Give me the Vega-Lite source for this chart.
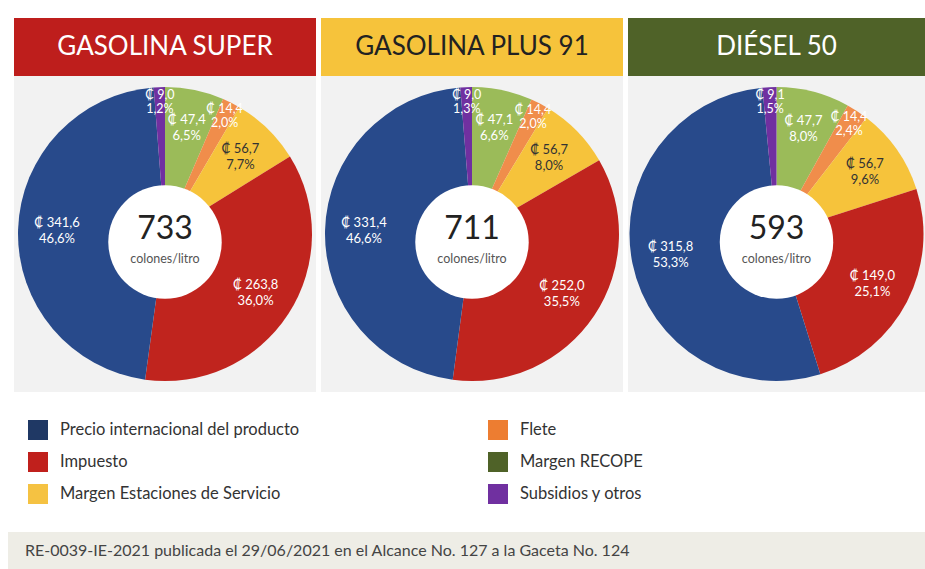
{
  "$schema": "https://vega.github.io/schema/vega-lite/v6.json",
  "padding": {"left": 8, "top": 18, "right": 0, "bottom": 0},
  "background": "white",
  "spacing": 0,
  "resolve": {"scale": {"color": "independent"}},
  "config": {
    "view": {"stroke": null},
    "locale": {"number": {"decimal": ",", "thousands": ".", "grouping": [3], "currency": ["₡ ", ""]}}
  },
  "datasets": {
    "fuels": [
      {"fuel": "GASOLINA SUPER", "total": 733},
      {"fuel": "GASOLINA PLUS 91", "total": 711},
      {"fuel": "DIÉSEL 50", "total": 593}
    ],
    "parts": [
      {"fuel": "GASOLINA SUPER", "component": "Margen RECOPE", "k": 1, "value": 47.4, "pct": 0.065},
      {"fuel": "GASOLINA SUPER", "component": "Flete", "k": 2, "value": 14.4, "pct": 0.020},
      {"fuel": "GASOLINA SUPER", "component": "Margen Estaciones de Servicio", "k": 3, "value": 56.7, "pct": 0.077},
      {"fuel": "GASOLINA SUPER", "component": "Impuesto", "k": 4, "value": 263.8, "pct": 0.360},
      {"fuel": "GASOLINA SUPER", "component": "Precio internacional del producto", "k": 5, "value": 341.6, "pct": 0.466},
      {"fuel": "GASOLINA SUPER", "component": "Subsidios y otros", "k": 6, "value": 9.0, "pct": 0.012},
      {"fuel": "GASOLINA PLUS 91", "component": "Margen RECOPE", "k": 1, "value": 47.1, "pct": 0.066},
      {"fuel": "GASOLINA PLUS 91", "component": "Flete", "k": 2, "value": 14.4, "pct": 0.020},
      {"fuel": "GASOLINA PLUS 91", "component": "Margen Estaciones de Servicio", "k": 3, "value": 56.7, "pct": 0.080},
      {"fuel": "GASOLINA PLUS 91", "component": "Impuesto", "k": 4, "value": 252.0, "pct": 0.355},
      {"fuel": "GASOLINA PLUS 91", "component": "Precio internacional del producto", "k": 5, "value": 331.4, "pct": 0.466},
      {"fuel": "GASOLINA PLUS 91", "component": "Subsidios y otros", "k": 6, "value": 9.0, "pct": 0.013},
      {"fuel": "DIÉSEL 50", "component": "Margen RECOPE", "k": 1, "value": 47.7, "pct": 0.080},
      {"fuel": "DIÉSEL 50", "component": "Flete", "k": 2, "value": 14.4, "pct": 0.024},
      {"fuel": "DIÉSEL 50", "component": "Margen Estaciones de Servicio", "k": 3, "value": 56.7, "pct": 0.096},
      {"fuel": "DIÉSEL 50", "component": "Impuesto", "k": 4, "value": 149.0, "pct": 0.251},
      {"fuel": "DIÉSEL 50", "component": "Precio internacional del producto", "k": 5, "value": 315.8, "pct": 0.533},
      {"fuel": "DIÉSEL 50", "component": "Subsidios y otros", "k": 6, "value": 9.1, "pct": 0.015}
    ]
  },
  "vconcat": [
    {
      "spacing": 5,
      "hconcat": [
        {"width": 1, "height": 374, "data": {"values": []}, "mark": "point", "encoding": {}},
        {
          "spacing": 0,
          "vconcat": [
            {
              "width": 302, "height": 58,
              "view": {"fill": "#be1e1c", "stroke": null},
              "data": {"name": "fuels"},
              "transform": [{"filter": "datum.fuel === 'GASOLINA SUPER'"}],
              "mark": {"type": "text", "font": "Lato", "fontSize": 26, "color": "#ffffff", "baseline": "middle", "align": "center"},
              "encoding": {"text": {"field": "fuel", "type": "nominal"}}
            },
            {
              "width": 302, "height": 316,
              "view": {"fill": "#f2f2f2", "stroke": null},
              "layer": [
                {
                  "data": {"name": "parts"},
                  "transform": [{"filter": "datum.fuel === 'GASOLINA SUPER'"}],
                  "mark": {"type": "arc", "outerRadius": 147},
                  "encoding": {
                    "theta": {"field": "value", "type": "quantitative", "stack": true},
                    "order": {"field": "k", "type": "quantitative"},
                    "color": {"field": "component", "type": "nominal", "legend": null,
                      "scale": {"domain": ["Precio internacional del producto", "Impuesto", "Margen Estaciones de Servicio", "Flete", "Margen RECOPE", "Subsidios y otros"],
                                "range": ["#284a8b", "#c0241e", "#f6c33b", "#f08d4b", "#9bbb59", "#7030a0"]}}
                  }
                },
                {
                  "data": {"name": "fuels"},
                  "transform": [{"filter": "datum.fuel === 'GASOLINA SUPER'"}],
                  "mark": {"type": "point", "shape": "circle", "filled": true, "color": "#ffffff", "opacity": 1, "size": 12868, "yOffset": 8},
                  "encoding": {}
                },
                {
                  "data": {"name": "parts"},
                  "transform": [{"filter": "datum.fuel === 'GASOLINA SUPER'"}],
                  "mark": {"type": "text", "radius": 108, "dy": -8, "font": "Lato", "fontSize": 13},
                  "encoding": {
                    "theta": {"field": "value", "type": "quantitative", "stack": true},
                    "order": {"field": "k", "type": "quantitative"},
                    "detail": {"field": "component", "type": "nominal"},
                    "text": {"condition": {"test": "datum.component === 'Flete' || datum.component === 'Subsidios y otros'", "value": ""}, "field": "value", "type": "quantitative", "format": "$.1f"},
                    "color": {"condition": {"test": "datum.component === 'Margen Estaciones de Servicio'", "value": "#333333"}, "value": "#ffffff"}
                  }
                },
                {
                  "data": {"name": "parts"},
                  "transform": [{"filter": "datum.fuel === 'GASOLINA SUPER'"}],
                  "mark": {"type": "text", "radius": 108, "dy": 8, "font": "Lato", "fontSize": 13},
                  "encoding": {
                    "theta": {"field": "value", "type": "quantitative", "stack": true},
                    "order": {"field": "k", "type": "quantitative"},
                    "detail": {"field": "component", "type": "nominal"},
                    "text": {"condition": {"test": "datum.component === 'Flete' || datum.component === 'Subsidios y otros'", "value": ""}, "field": "pct", "type": "quantitative", "format": ".1%"},
                    "color": {"condition": {"test": "datum.component === 'Margen Estaciones de Servicio'", "value": "#333333"}, "value": "#ffffff"}
                  }
                },
                {
                  "data": {"name": "parts"},
                  "transform": [{"filter": "datum.fuel === 'GASOLINA SUPER'"}],
                  "mark": {"type": "text", "radius": 132, "dy": -7, "font": "Lato", "fontSize": 12.5, "color": "#ffffff"},
                  "encoding": {
                    "theta": {"field": "value", "type": "quantitative", "stack": true},
                    "order": {"field": "k", "type": "quantitative"},
                    "detail": {"field": "component", "type": "nominal"},
                    "text": {"condition": {"test": "datum.component !== 'Flete' && datum.component !== 'Subsidios y otros'", "value": ""}, "field": "value", "type": "quantitative", "format": "$.1f"}
                  }
                },
                {
                  "data": {"name": "parts"},
                  "transform": [{"filter": "datum.fuel === 'GASOLINA SUPER'"}],
                  "mark": {"type": "text", "radius": 132, "dy": 7, "font": "Lato", "fontSize": 12.5, "color": "#ffffff"},
                  "encoding": {
                    "theta": {"field": "value", "type": "quantitative", "stack": true},
                    "order": {"field": "k", "type": "quantitative"},
                    "detail": {"field": "component", "type": "nominal"},
                    "text": {"condition": {"test": "datum.component !== 'Flete' && datum.component !== 'Subsidios y otros'", "value": ""}, "field": "pct", "type": "quantitative", "format": ".1%"}
                  }
                },
                {
                  "data": {"name": "fuels"},
                  "transform": [{"filter": "datum.fuel === 'GASOLINA SUPER'"}],
                  "mark": {"type": "text", "font": "Lato", "fontSize": 32, "color": "#222222", "dy": -5, "baseline": "middle"},
                  "encoding": {"text": {"field": "total", "type": "quantitative"}}
                },
                {
                  "data": {"name": "fuels"},
                  "transform": [{"filter": "datum.fuel === 'GASOLINA SUPER'"}],
                  "mark": {"type": "text", "font": "Lato", "fontSize": 12.5, "color": "#555555", "dy": 25, "baseline": "middle"},
                  "encoding": {"text": {"value": "colones/litro"}}
                }
              ]
            }
          ]
        },
        {
          "spacing": 0,
          "vconcat": [
            {
              "width": 302, "height": 58,
              "view": {"fill": "#f6c33b", "stroke": null},
              "data": {"name": "fuels"},
              "transform": [{"filter": "datum.fuel === 'GASOLINA PLUS 91'"}],
              "mark": {"type": "text", "font": "Lato", "fontSize": 26, "color": "#222222", "baseline": "middle", "align": "center"},
              "encoding": {"text": {"field": "fuel", "type": "nominal"}}
            },
            {
              "width": 302, "height": 316,
              "view": {"fill": "#f2f2f2", "stroke": null},
              "layer": [
                {
                  "data": {"name": "parts"},
                  "transform": [{"filter": "datum.fuel === 'GASOLINA PLUS 91'"}],
                  "mark": {"type": "arc", "outerRadius": 147},
                  "encoding": {
                    "theta": {"field": "value", "type": "quantitative", "stack": true},
                    "order": {"field": "k", "type": "quantitative"},
                    "color": {"field": "component", "type": "nominal", "legend": null,
                      "scale": {"domain": ["Precio internacional del producto", "Impuesto", "Margen Estaciones de Servicio", "Flete", "Margen RECOPE", "Subsidios y otros"],
                                "range": ["#284a8b", "#c0241e", "#f6c33b", "#f08d4b", "#9bbb59", "#7030a0"]}}
                  }
                },
                {
                  "data": {"name": "fuels"},
                  "transform": [{"filter": "datum.fuel === 'GASOLINA PLUS 91'"}],
                  "mark": {"type": "point", "shape": "circle", "filled": true, "color": "#ffffff", "opacity": 1, "size": 12868, "yOffset": 8},
                  "encoding": {}
                },
                {
                  "data": {"name": "parts"},
                  "transform": [{"filter": "datum.fuel === 'GASOLINA PLUS 91'"}],
                  "mark": {"type": "text", "radius": 108, "dy": -8, "font": "Lato", "fontSize": 13},
                  "encoding": {
                    "theta": {"field": "value", "type": "quantitative", "stack": true},
                    "order": {"field": "k", "type": "quantitative"},
                    "detail": {"field": "component", "type": "nominal"},
                    "text": {"condition": {"test": "datum.component === 'Flete' || datum.component === 'Subsidios y otros'", "value": ""}, "field": "value", "type": "quantitative", "format": "$.1f"},
                    "color": {"condition": {"test": "datum.component === 'Margen Estaciones de Servicio'", "value": "#333333"}, "value": "#ffffff"}
                  }
                },
                {
                  "data": {"name": "parts"},
                  "transform": [{"filter": "datum.fuel === 'GASOLINA PLUS 91'"}],
                  "mark": {"type": "text", "radius": 108, "dy": 8, "font": "Lato", "fontSize": 13},
                  "encoding": {
                    "theta": {"field": "value", "type": "quantitative", "stack": true},
                    "order": {"field": "k", "type": "quantitative"},
                    "detail": {"field": "component", "type": "nominal"},
                    "text": {"condition": {"test": "datum.component === 'Flete' || datum.component === 'Subsidios y otros'", "value": ""}, "field": "pct", "type": "quantitative", "format": ".1%"},
                    "color": {"condition": {"test": "datum.component === 'Margen Estaciones de Servicio'", "value": "#333333"}, "value": "#ffffff"}
                  }
                },
                {
                  "data": {"name": "parts"},
                  "transform": [{"filter": "datum.fuel === 'GASOLINA PLUS 91'"}],
                  "mark": {"type": "text", "radius": 132, "dy": -7, "font": "Lato", "fontSize": 12.5, "color": "#ffffff"},
                  "encoding": {
                    "theta": {"field": "value", "type": "quantitative", "stack": true},
                    "order": {"field": "k", "type": "quantitative"},
                    "detail": {"field": "component", "type": "nominal"},
                    "text": {"condition": {"test": "datum.component !== 'Flete' && datum.component !== 'Subsidios y otros'", "value": ""}, "field": "value", "type": "quantitative", "format": "$.1f"}
                  }
                },
                {
                  "data": {"name": "parts"},
                  "transform": [{"filter": "datum.fuel === 'GASOLINA PLUS 91'"}],
                  "mark": {"type": "text", "radius": 132, "dy": 7, "font": "Lato", "fontSize": 12.5, "color": "#ffffff"},
                  "encoding": {
                    "theta": {"field": "value", "type": "quantitative", "stack": true},
                    "order": {"field": "k", "type": "quantitative"},
                    "detail": {"field": "component", "type": "nominal"},
                    "text": {"condition": {"test": "datum.component !== 'Flete' && datum.component !== 'Subsidios y otros'", "value": ""}, "field": "pct", "type": "quantitative", "format": ".1%"}
                  }
                },
                {
                  "data": {"name": "fuels"},
                  "transform": [{"filter": "datum.fuel === 'GASOLINA PLUS 91'"}],
                  "mark": {"type": "text", "font": "Lato", "fontSize": 32, "color": "#222222", "dy": -5, "baseline": "middle"},
                  "encoding": {"text": {"field": "total", "type": "quantitative"}}
                },
                {
                  "data": {"name": "fuels"},
                  "transform": [{"filter": "datum.fuel === 'GASOLINA PLUS 91'"}],
                  "mark": {"type": "text", "font": "Lato", "fontSize": 12.5, "color": "#555555", "dy": 25, "baseline": "middle"},
                  "encoding": {"text": {"value": "colones/litro"}}
                }
              ]
            }
          ]
        },
        {
          "spacing": 0,
          "vconcat": [
            {
              "width": 297, "height": 58,
              "view": {"fill": "#4f6228", "stroke": null},
              "data": {"name": "fuels"},
              "transform": [{"filter": "datum.fuel === 'DIÉSEL 50'"}],
              "mark": {"type": "text", "font": "Lato", "fontSize": 26, "color": "#ffffff", "baseline": "middle", "align": "center"},
              "encoding": {"text": {"field": "fuel", "type": "nominal"}}
            },
            {
              "width": 297, "height": 316,
              "view": {"fill": "#f2f2f2", "stroke": null},
              "layer": [
                {
                  "data": {"name": "parts"},
                  "transform": [{"filter": "datum.fuel === 'DIÉSEL 50'"}],
                  "mark": {"type": "arc", "outerRadius": 147},
                  "encoding": {
                    "theta": {"field": "value", "type": "quantitative", "stack": true},
                    "order": {"field": "k", "type": "quantitative"},
                    "color": {"field": "component", "type": "nominal", "legend": null,
                      "scale": {"domain": ["Precio internacional del producto", "Impuesto", "Margen Estaciones de Servicio", "Flete", "Margen RECOPE", "Subsidios y otros"],
                                "range": ["#284a8b", "#c0241e", "#f6c33b", "#f08d4b", "#9bbb59", "#7030a0"]}}
                  }
                },
                {
                  "data": {"name": "fuels"},
                  "transform": [{"filter": "datum.fuel === 'DIÉSEL 50'"}],
                  "mark": {"type": "point", "shape": "circle", "filled": true, "color": "#ffffff", "opacity": 1, "size": 12868, "yOffset": 8},
                  "encoding": {}
                },
                {
                  "data": {"name": "parts"},
                  "transform": [{"filter": "datum.fuel === 'DIÉSEL 50'"}],
                  "mark": {"type": "text", "radius": 108, "dy": -8, "font": "Lato", "fontSize": 13},
                  "encoding": {
                    "theta": {"field": "value", "type": "quantitative", "stack": true},
                    "order": {"field": "k", "type": "quantitative"},
                    "detail": {"field": "component", "type": "nominal"},
                    "text": {"condition": {"test": "datum.component === 'Flete' || datum.component === 'Subsidios y otros'", "value": ""}, "field": "value", "type": "quantitative", "format": "$.1f"},
                    "color": {"condition": {"test": "datum.component === 'Margen Estaciones de Servicio'", "value": "#333333"}, "value": "#ffffff"}
                  }
                },
                {
                  "data": {"name": "parts"},
                  "transform": [{"filter": "datum.fuel === 'DIÉSEL 50'"}],
                  "mark": {"type": "text", "radius": 108, "dy": 8, "font": "Lato", "fontSize": 13},
                  "encoding": {
                    "theta": {"field": "value", "type": "quantitative", "stack": true},
                    "order": {"field": "k", "type": "quantitative"},
                    "detail": {"field": "component", "type": "nominal"},
                    "text": {"condition": {"test": "datum.component === 'Flete' || datum.component === 'Subsidios y otros'", "value": ""}, "field": "pct", "type": "quantitative", "format": ".1%"},
                    "color": {"condition": {"test": "datum.component === 'Margen Estaciones de Servicio'", "value": "#333333"}, "value": "#ffffff"}
                  }
                },
                {
                  "data": {"name": "parts"},
                  "transform": [{"filter": "datum.fuel === 'DIÉSEL 50'"}],
                  "mark": {"type": "text", "radius": 132, "dy": -7, "font": "Lato", "fontSize": 12.5, "color": "#ffffff"},
                  "encoding": {
                    "theta": {"field": "value", "type": "quantitative", "stack": true},
                    "order": {"field": "k", "type": "quantitative"},
                    "detail": {"field": "component", "type": "nominal"},
                    "text": {"condition": {"test": "datum.component !== 'Flete' && datum.component !== 'Subsidios y otros'", "value": ""}, "field": "value", "type": "quantitative", "format": "$.1f"}
                  }
                },
                {
                  "data": {"name": "parts"},
                  "transform": [{"filter": "datum.fuel === 'DIÉSEL 50'"}],
                  "mark": {"type": "text", "radius": 132, "dy": 7, "font": "Lato", "fontSize": 12.5, "color": "#ffffff"},
                  "encoding": {
                    "theta": {"field": "value", "type": "quantitative", "stack": true},
                    "order": {"field": "k", "type": "quantitative"},
                    "detail": {"field": "component", "type": "nominal"},
                    "text": {"condition": {"test": "datum.component !== 'Flete' && datum.component !== 'Subsidios y otros'", "value": ""}, "field": "pct", "type": "quantitative", "format": ".1%"}
                  }
                },
                {
                  "data": {"name": "fuels"},
                  "transform": [{"filter": "datum.fuel === 'DIÉSEL 50'"}],
                  "mark": {"type": "text", "font": "Lato", "fontSize": 32, "color": "#222222", "dy": -5, "baseline": "middle"},
                  "encoding": {"text": {"field": "total", "type": "quantitative"}}
                },
                {
                  "data": {"name": "fuels"},
                  "transform": [{"filter": "datum.fuel === 'DIÉSEL 50'"}],
                  "mark": {"type": "text", "font": "Lato", "fontSize": 12.5, "color": "#555555", "dy": 25, "baseline": "middle"},
                  "encoding": {"text": {"value": "colones/litro"}}
                }
              ]
            }
          ]
        }
      ]
    },
    {
      "width": 917, "height": 140,
      "data": {"name": "parts"},
      "mark": {"type": "point", "filled": true, "opacity": 0, "size": 1},
      "encoding": {
        "color": {
          "field": "component", "type": "nominal",
          "scale": {
            "domain": ["Precio internacional del producto", "Impuesto", "Margen Estaciones de Servicio", "Flete", "Margen RECOPE", "Subsidios y otros"],
            "range": ["#1f3864", "#c0201c", "#f5c242", "#ed7d31", "#4f6228", "#7030a0"]
          },
          "legend": {
            "orient": "none", "legendX": 20, "legendY": 28, "title": null, "columns": 2,
            "symbolType": "square", "symbolSize": 400, "symbolStrokeWidth": 0, "symbolOpacity": 1,
            "labelFont": "Lato", "labelFontSize": 16.5, "labelColor": "#333333", "labelOffset": 12,
            "rowPadding": 12, "columnPadding": 188, "labelLimit": 400
          }
        }
      }
    },
    {
      "width": 917, "height": 37,
      "view": {"fill": "#eeede6", "stroke": null},
      "data": {"values": [{"note": "RE-0039-IE-2021 publicada el 29/06/2021 en el Alcance No. 127 a la Gaceta No. 124"}]},
      "mark": {"type": "text", "align": "left", "baseline": "middle", "dx": 17, "font": "Lato", "fontSize": 16, "color": "#444444"},
      "encoding": {
        "x": {"field": "note", "type": "nominal", "axis": null, "bandPosition": 0, "scale": {"type": "band", "paddingInner": 0, "paddingOuter": 0}},
        "text": {"field": "note", "type": "nominal"}
      }
    }
  ]
}
